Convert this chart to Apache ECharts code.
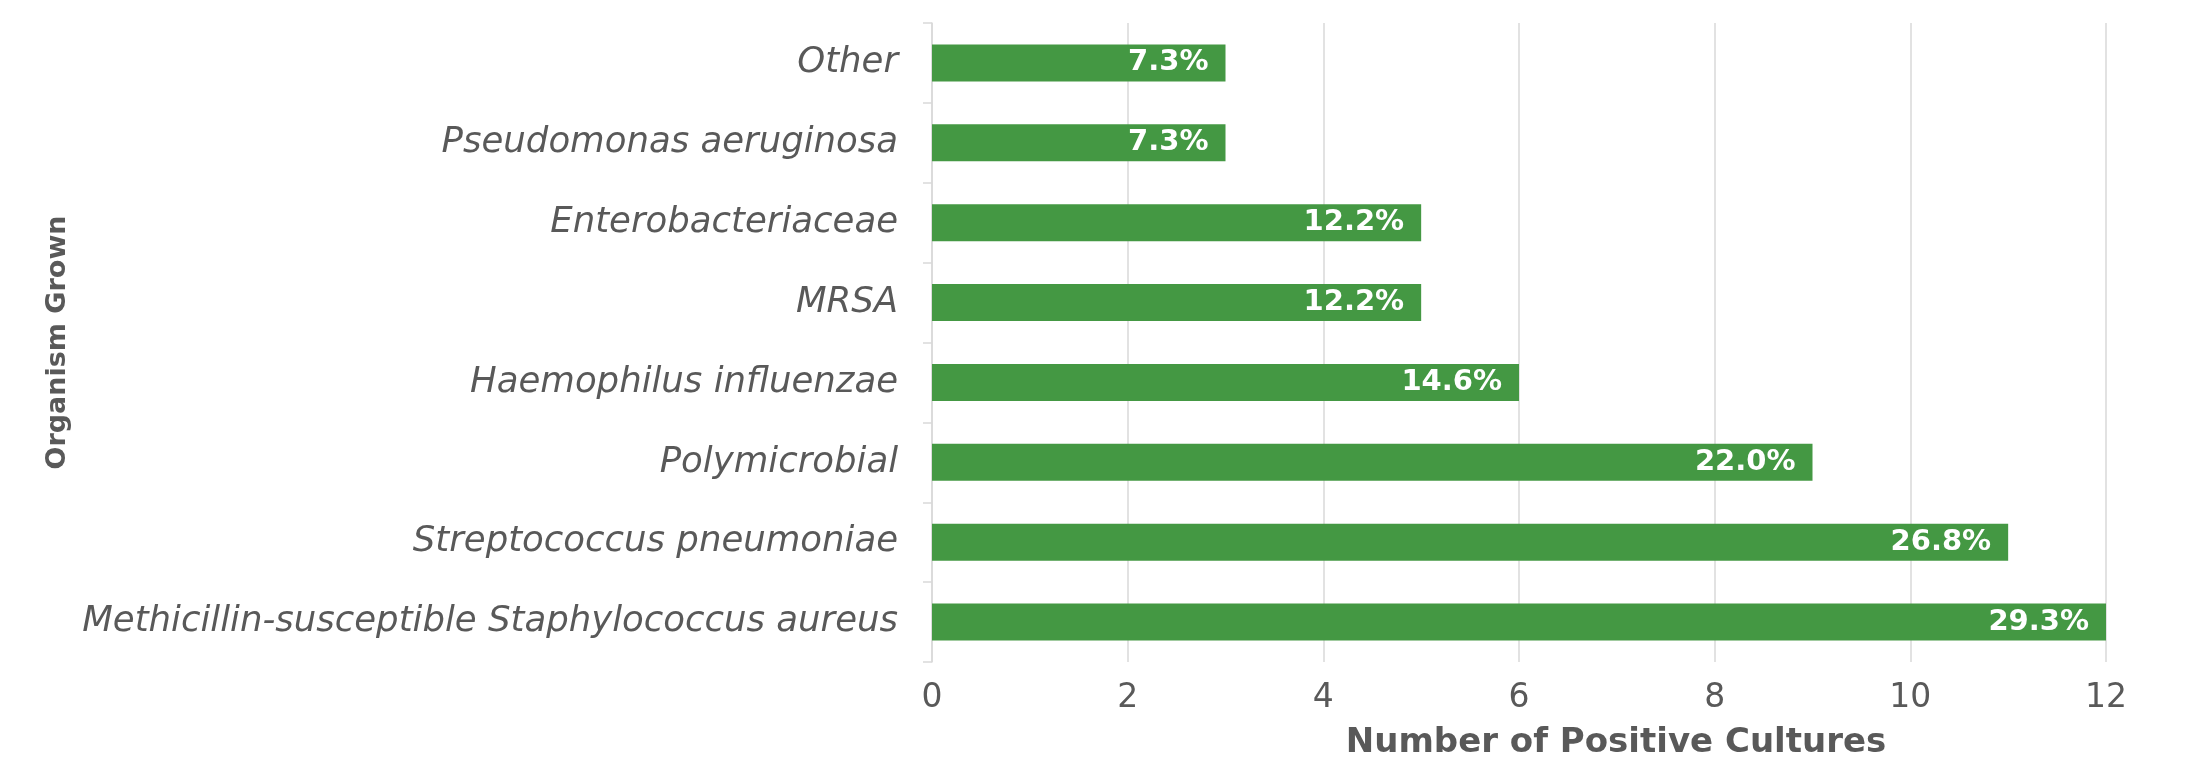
<!DOCTYPE html>
<html>
<head>
<meta charset="utf-8">
<script src="https://cdn.jsdelivr.net/npm/echarts@6/dist/echarts.min.js"></script>
<style>
  html, body { margin: 0; padding: 0; background: #ffffff; }
  #chart { width: 2196px; height: 777px; }
</style>
</head>
<body>
<div id="chart"></div>
<script>
// Data (top to bottom)
const categories = [
  'Other',
  'Pseudomonas aeruginosa',
  'Enterobacteriaceae',
  'MRSA',
  'Haemophilus influenzae',
  'Polymicrobial',
  'Streptococcus pneumoniae',
  'Methicillin-susceptible Staphylococcus aureus'
];
const counts = [3, 3, 5, 5, 6, 9, 11, 12];
const percentLabels = ['7.3%', '7.3%', '12.2%', '12.2%', '14.6%', '22.0%', '26.8%', '29.3%'];
const xTicks = [0, 2, 4, 6, 8, 10, 12];
const xTitle = 'Number of Positive Cultures';
const yTitle = 'Organism Grown';

const textColor = '#595959';
const gridColor = '#d9d9d9';
const barColor = '#449843';
const fontFamily = '"DejaVu Sans", "Liberation Sans", Arial, sans-serif';

const chart = echarts.init(document.getElementById('chart'), null, { renderer: 'canvas' });
chart.setOption({
  backgroundColor: '#ffffff',
  animation: false,
  textStyle: { fontFamily: fontFamily },
  grid: { left: 932, right: 90, top: 23, bottom: 115, containLabel: false },
  xAxis: {
    type: 'value',
    min: xTicks[0],
    max: xTicks[xTicks.length - 1],
    interval: xTicks[1] - xTicks[0],
    name: xTitle,
    nameLocation: 'middle',
    nameGap: 64,
    nameTextStyle: {
      fontFamily: fontFamily, fontSize: 34, fontWeight: 'bold', color: textColor,
      padding: [0, 0, 0, 194]
    },
    axisLine: { show: false },
    axisTick: { show: false },
    axisLabel: { fontFamily: fontFamily, fontSize: 33, color: textColor, margin: 20 },
    splitLine: { show: true, lineStyle: { color: gridColor, width: 1.5 } }
  },
  yAxis: {
    type: 'category',
    inverse: true,
    data: categories,
    name: yTitle,
    nameLocation: 'middle',
    nameRotate: 90,
    nameGap: 858,
    nameTextStyle: {
      fontFamily: fontFamily, fontSize: 27, fontWeight: 'bold', color: textColor
    },
    axisLine: { show: true, lineStyle: { color: gridColor, width: 1.5 } },
    axisTick: { show: true, length: 9, lineStyle: { color: gridColor, width: 1.5 } },
    axisLabel: { fontFamily: fontFamily, fontSize: 35.5, fontStyle: 'italic', color: textColor, margin: 34 },
    splitLine: { show: false }
  },
  series: [{
    type: 'bar',
    data: counts,
    barWidth: 37,
    itemStyle: { color: barColor },
    label: {
      show: true,
      position: 'insideRight',
      distance: 17,
      color: '#ffffff',
      fontFamily: fontFamily,
      fontWeight: 'bold',
      fontSize: 29,
      formatter: function (p) { return percentLabels[p.dataIndex]; }
    }
  }]
});
</script>
</body>
</html>
